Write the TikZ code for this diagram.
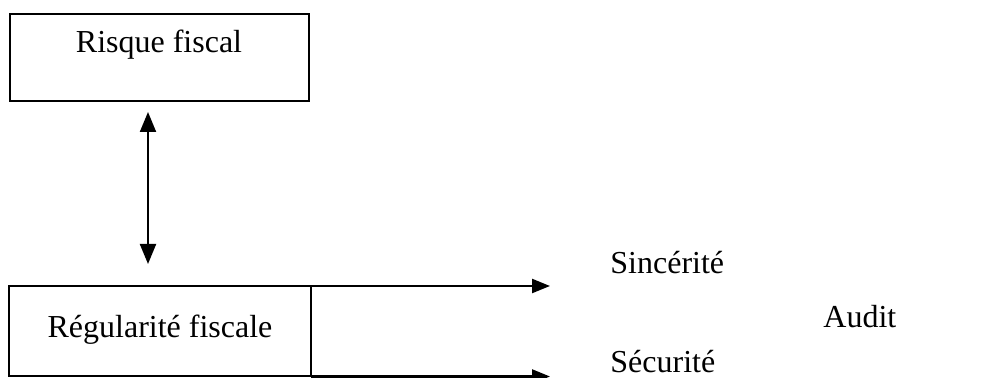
\documentclass[tikz,border=0pt]{standalone}
\usepackage{fontspec}
\setmainfont{Liberation Serif}
\usetikzlibrary{arrows.meta}
\tikzset{
  x=0.5pt, y=-0.5pt,
  frame/.style={draw, line width=1.2pt},
  lbl/.style={inner sep=0pt, anchor=base, font=\fontsize{16}{18}\selectfont},
  arr/.style={line width=1.2pt, -{Triangle[length=9pt,width=7pt]}},
  darr/.style={line width=1.0pt, {Triangle[length=10pt,width=8pt]}-{Triangle[length=10pt,width=8pt]}}
}
\begin{document}
\begin{tikzpicture}
\useasboundingbox (0,0) rectangle (1004,378);
\draw[frame] (10,14) rectangle (309,101);
\node[lbl] (rf) at (159,53) {Risque fiscal};
\coordinate (rftop) at (148,112);
\draw[frame] (9,286) rectangle (311,376);
\node[lbl] (reg) at (160,338) {Régularité fiscale};
\coordinate (regtop) at (148,264);
\coordinate (a1) at (311,286);
\coordinate (a2) at (311,376.5);
\coordinate (e1) at (550,286);
\coordinate (e2) at (550,376.5);
\draw[darr] (rftop) -- (regtop);
\draw[arr] (a1) -- (e1);
\draw[arr] (a2) -- (e2);
\node[lbl, anchor=base west] (sin) at (610,274) {Sincérité};
\node[lbl, anchor=base west] (sec) at (610,372) {Sécurité};
\node[lbl, anchor=base west] (aud) at (823,328) {Audit};
\end{tikzpicture}
\end{document}
